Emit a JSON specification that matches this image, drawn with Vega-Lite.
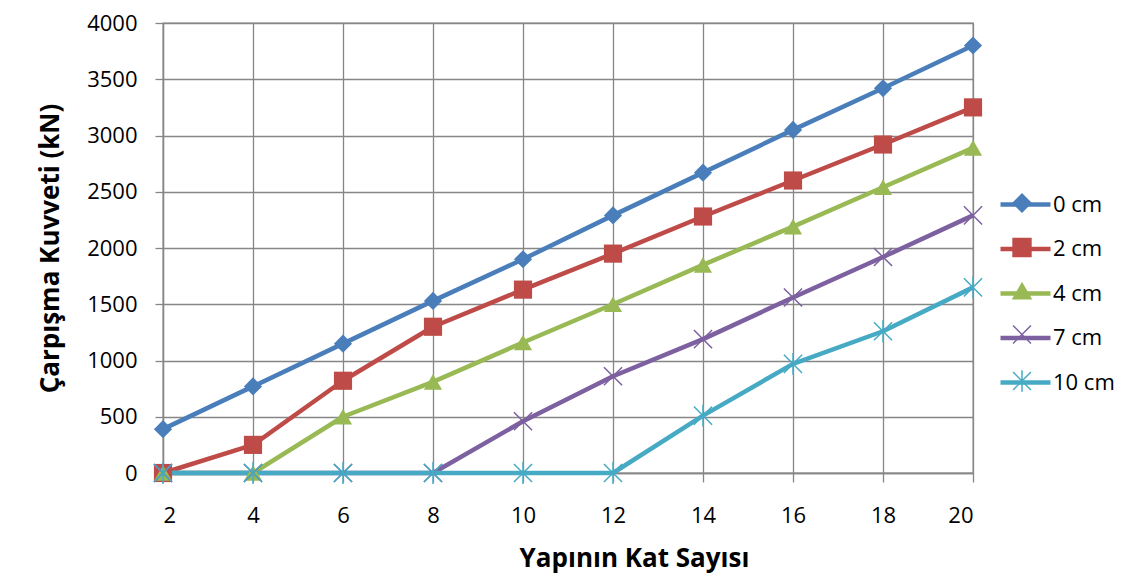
{
  "$schema": "https://vega.github.io/schema/vega-lite/v6.json",
  "width": 810,
  "height": 450,
  "autosize": {"type": "none"},
  "padding": {"left": 163, "top": 23, "right": 152, "bottom": 106},
  "background": "white",
  "config": {
    "font": "Open Sans",
    "view": {"stroke": "#868686", "strokeWidth": 1.3},
    "axis": {"gridColor": "#868686", "gridWidth": 1.3, "gridOpacity": 1, "domainColor": "#868686", "domainWidth": 1.3, "tickColor": "#868686", "tickWidth": 1.3, "labelColor": "#000000", "titleColor": "#000000", "labelFont": "Open Sans", "titleFont": "Open Sans"},
    "legend": {"labelFont": "Open Sans", "labelColor": "#000000"}
  },
  "data": {"values": [
    {"x": 2, "y": 390, "series": "0 cm", "m": 0},
    {"x": 4, "y": 770, "series": "0 cm", "m": 0},
    {"x": 6, "y": 1150, "series": "0 cm", "m": 0},
    {"x": 8, "y": 1530, "series": "0 cm", "m": 0},
    {"x": 10, "y": 1900, "series": "0 cm", "m": 0},
    {"x": 12, "y": 2290, "series": "0 cm", "m": 0},
    {"x": 14, "y": 2670, "series": "0 cm", "m": 0},
    {"x": 16, "y": 3050, "series": "0 cm", "m": 0},
    {"x": 18, "y": 3420, "series": "0 cm", "m": 0},
    {"x": 20, "y": 3800, "series": "0 cm", "m": 0},
    {"x": 2, "y": 0, "series": "2 cm", "m": 2},
    {"x": 4, "y": 250, "series": "2 cm", "m": 2},
    {"x": 6, "y": 820, "series": "2 cm", "m": 2},
    {"x": 8, "y": 1300, "series": "2 cm", "m": 2},
    {"x": 10, "y": 1630, "series": "2 cm", "m": 2},
    {"x": 12, "y": 1950, "series": "2 cm", "m": 2},
    {"x": 14, "y": 2280, "series": "2 cm", "m": 2},
    {"x": 16, "y": 2600, "series": "2 cm", "m": 2},
    {"x": 18, "y": 2920, "series": "2 cm", "m": 2},
    {"x": 20, "y": 3250, "series": "2 cm", "m": 2},
    {"x": 2, "y": 0, "series": "4 cm", "m": 4},
    {"x": 4, "y": 0, "series": "4 cm", "m": 4},
    {"x": 6, "y": 500, "series": "4 cm", "m": 4},
    {"x": 8, "y": 810, "series": "4 cm", "m": 4},
    {"x": 10, "y": 1160, "series": "4 cm", "m": 4},
    {"x": 12, "y": 1500, "series": "4 cm", "m": 4},
    {"x": 14, "y": 1850, "series": "4 cm", "m": 4},
    {"x": 16, "y": 2190, "series": "4 cm", "m": 4},
    {"x": 18, "y": 2540, "series": "4 cm", "m": 4},
    {"x": 20, "y": 2890, "series": "4 cm", "m": 4},
    {"x": 2, "y": 0, "series": "7 cm", "m": 7},
    {"x": 4, "y": 0, "series": "7 cm", "m": 7},
    {"x": 6, "y": 0, "series": "7 cm", "m": 7},
    {"x": 8, "y": 0, "series": "7 cm", "m": 7},
    {"x": 10, "y": 460, "series": "7 cm", "m": 7},
    {"x": 12, "y": 860, "series": "7 cm", "m": 7},
    {"x": 14, "y": 1190, "series": "7 cm", "m": 7},
    {"x": 16, "y": 1560, "series": "7 cm", "m": 7},
    {"x": 18, "y": 1920, "series": "7 cm", "m": 7},
    {"x": 20, "y": 2290, "series": "7 cm", "m": 7},
    {"x": 2, "y": 0, "series": "10 cm", "m": 10},
    {"x": 4, "y": 0, "series": "10 cm", "m": 10},
    {"x": 6, "y": 0, "series": "10 cm", "m": 10},
    {"x": 8, "y": 0, "series": "10 cm", "m": 10},
    {"x": 10, "y": 0, "series": "10 cm", "m": 10},
    {"x": 12, "y": 0, "series": "10 cm", "m": 10},
    {"x": 14, "y": 510, "series": "10 cm", "m": 10},
    {"x": 16, "y": 970, "series": "10 cm", "m": 10},
    {"x": 18, "y": 1260, "series": "10 cm", "m": 10},
    {"x": 20, "y": 1650, "series": "10 cm", "m": 10}
  ]},
  "encoding": {
    "x": {"field": "x", "type": "quantitative",
      "scale": {"domain": [2, 20], "nice": false, "zero": false},
      "axis": {"values": [2, 4, 6, 8, 10, 12, 14, 16, 18, 20], "grid": true, "tickSize": 9, "labelFontSize": 22, "labelPadding": 23,
        "title": "Yapının Kat Sayısı", "titleFontSize": 26, "titleFontWeight": "bold", "titlePadding": 19, "titleX": 471}},
    "y": {"field": "y", "type": "quantitative",
      "scale": {"domain": [0, 4000], "nice": false},
      "axis": {"values": [0, 500, 1000, 1500, 2000, 2500, 3000, 3500, 4000], "format": "d", "grid": true, "tickSize": 8, "labelFontSize": 22, "labelPadding": 18,
        "title": "Çarpışma Kuvveti (kN)", "titleFontSize": 26, "titleFontWeight": "bold", "titlePadding": 23}}
  },
  "layer": [
    {
      "mark": {"type": "line", "strokeWidth": 4.5, "strokeJoin": "round"},
      "encoding": {
        "stroke": {"field": "m", "type": "nominal",
          "scale": {"domain": [0, 2, 4, 7, 10], "range": ["#4A7EBB", "#BE4B48", "#98B954", "#7D60A0", "#46AAC5"]},
          "legend": {"title": null, "orient": "none", "legendX": 850, "legendY": 169, "padding": 0,
            "symbolType": "M-2.5,0L2.5,0", "symbolSize": 400, "symbolStrokeWidth": 4.5,
            "labelExpr": "datum.value + ' cm'",
            "labelFontSize": 22, "labelOffset": 15, "rowPadding": 20.5}
        }
      }
    },
    {
      "transform": [{"filter": {"field": "m", "oneOf": [0, 2, 4]}}],
      "mark": {"type": "point", "filled": true, "size": 330, "opacity": 1},
      "encoding": {
        "color": {"field": "series", "type": "nominal",
          "scale": {"domain": ["0 cm", "2 cm", "4 cm", "7 cm", "10 cm"], "range": ["#4A7EBB", "#BE4B48", "#98B954", "#7D60A0", "#46AAC5"]},
          "legend": {"title": null, "orient": "none", "legendX": 848, "legendY": 169, "padding": 0,
            "symbolSize": 320, "symbolStrokeWidth": 1.5, "symbolOpacity": 1, "labelFontSize": 22, "labelExpr": "''", "labelOffset": 15, "rowPadding": 20.5}},
        "shape": {"field": "series", "type": "nominal",
          "scale": {"domain": ["0 cm", "2 cm", "4 cm", "7 cm", "10 cm"], "range": ["diamond", "square", "triangle-up", "M-1,-1L1,1M-1,1L1,-1", "M-1,-1L1,1M-1,1L1,-1M0,-1.2L0,1.2"]},
          "legend": {"title": null, "orient": "none", "legendX": 848, "legendY": 169, "padding": 0,
            "symbolSize": 320, "symbolStrokeWidth": 1.5, "symbolOpacity": 1, "labelFontSize": 22, "labelExpr": "''", "labelOffset": 15, "rowPadding": 20.5}
        }
      }
    },
    {
      "transform": [{"filter": {"field": "m", "oneOf": [7, 10]}}],
      "mark": {"type": "point", "filled": false, "size": 330, "strokeWidth": 1.5, "opacity": 1},
      "encoding": {
        "color": {"field": "series", "type": "nominal"},
        "shape": {"field": "series", "type": "nominal"}
      }
    }
  ]
}
